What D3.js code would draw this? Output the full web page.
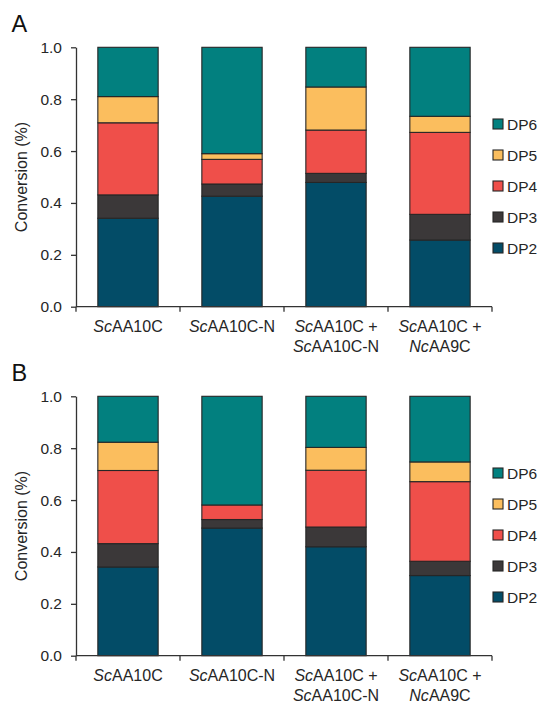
<!DOCTYPE html>
<html>
<head>
<meta charset="utf-8">
<script src="https://cdn.jsdelivr.net/npm/d3@7"></script>
<style>
	body { margin: 0; background: #fff; }
	svg { display: block; font-family: "Liberation Sans", Arial, sans-serif; }
</style>
</head>
<body>
<script>
// categories (first 2 chars of each line are italic)
const labelLine1 = ["ScAA10C", "ScAA10C-N", "ScAA10C +", "ScAA10C +"];
const labelLine2 = ["", "", "ScAA10C-N", "NcAA9C"];
const seriesKeys = ["DP2", "DP3", "DP4", "DP5", "DP6"];
const yTicks = [0, 0.2, 0.4, 0.6, 0.8, 1.0];

// panel A values
const dp2A = [0.341, 0.426, 0.479, 0.257];
const dp3A = [0.090, 0.047, 0.035, 0.099];
const dp4A = [0.278, 0.095, 0.167, 0.316];
const dp5A = [0.101, 0.022, 0.166, 0.062];
const dp6A = [0.190, 0.410, 0.153, 0.266];

// panel B values
const dp2B = [0.342, 0.492, 0.420, 0.309];
const dp3B = [0.090, 0.033, 0.076, 0.055];
const dp4B = [0.282, 0.056, 0.219, 0.307];
const dp5B = [0.109, 0.000, 0.088, 0.076];
const dp6B = [0.177, 0.419, 0.197, 0.253];

const colors = {
	DP2: "#034c67",
	DP3: "#3b3839",
	DP4: "#ef4f4a",
	DP5: "#fbbe5e",
	DP6: "#02807f"
};

const width = 539, height = 705;
const svg = d3.select("body").append("svg")
	.attr("width", width)
	.attr("height", height);

const axisColor = "#333";
const textColor = "#262626";
const fontSize = 15.5;
const labelSize = 16;

function buildRows(cols) {
	return labelLine1.map((_, i) => {
		const row = { idx: i };
		seriesKeys.forEach((k, j) => (row[k] = cols[j][i]));
		return row;
	});
}

function italicLabel(textSel, str) {
	textSel.append("tspan").attr("font-style", "italic").text(str.slice(0, 2));
	textSel.append("tspan").text(str.slice(2));
}

function drawPanel(letter, cols, top) {
	const g = svg.append("g");
	const plotTop = top + 47.3;
	const plotBottom = top + 306.7;

	const x = d3.scaleBand()
		.domain(labelLine1.map((_, i) => i))
		.range([76, 492])
		.paddingInner(0.42)
		.paddingOuter(0.21);

	const y = d3.scaleLinear()
		.domain([0, 1])
		.range([plotBottom, plotTop]);

	const stacked = d3.stack().keys(seriesKeys)(buildRows(cols));

	// bars
	g.selectAll("g.layer")
		.data(stacked)
		.join("g")
		.attr("class", "layer")
		.attr("fill", d => colors[d.key])
		.selectAll("rect")
		.data(d => d.filter(s => s[1] - s[0] > 0))
		.join("rect")
		.attr("x", d => x(d.data.idx))
		.attr("y", d => y(d[1]))
		.attr("width", x.bandwidth())
		.attr("height", d => y(d[0]) - y(d[1]))
		.attr("stroke", "#262626")
		.attr("stroke-width", 1.1);

	// y axis
	const yAxis = g.append("g")
		.attr("transform", "translate(76,0)")
		.call(d3.axisLeft(y).tickValues(yTicks).tickFormat(d3.format(".1f")).tickSize(5).tickPadding(9).tickSizeOuter(0));
	yAxis.select(".domain").attr("stroke", axisColor).attr("stroke-width", 1.3);
	yAxis.selectAll(".tick line").attr("stroke", axisColor).attr("stroke-width", 1.3);
	yAxis.selectAll(".tick text")
		.attr("font-size", fontSize)
		.attr("font-family", "Liberation Sans, Arial, sans-serif")
		.attr("fill", textColor);

	// x axis line with boundary ticks
	g.append("line")
		.attr("x1", 76).attr("x2", 492)
		.attr("y1", plotBottom).attr("y2", plotBottom)
		.attr("stroke", axisColor).attr("stroke-width", 1.3);
	const bounds = [x.range()[0]].concat(labelLine1.map((_, i) => x(i) + x.bandwidth() + x.step() * x.paddingInner() / 2));
	bounds[bounds.length - 1] = x.range()[1];
	g.selectAll("line.xtick")
		.data(bounds)
		.join("line")
		.attr("class", "xtick")
		.attr("x1", d => d).attr("x2", d => d)
		.attr("y1", plotBottom).attr("y2", plotBottom + 5)
		.attr("stroke", axisColor).attr("stroke-width", 1.3);

	// x labels
	labelLine1.forEach((l, i) => {
		const cx = x(i) + x.bandwidth() / 2;
		const t1 = g.append("text")
			.attr("x", cx).attr("y", plotBottom + 25.5)
			.attr("text-anchor", "middle")
			.attr("font-size", labelSize)
			.attr("fill", textColor);
		italicLabel(t1, l);
		if (labelLine2[i]) {
			const t2 = g.append("text")
				.attr("x", cx).attr("y", plotBottom + 45)
				.attr("text-anchor", "middle")
				.attr("font-size", labelSize)
				.attr("fill", textColor);
			italicLabel(t2, labelLine2[i]);
		}
	});

	// y axis title
	g.append("text")
		.attr("transform", `translate(26.5,${(plotTop + plotBottom) / 2}) rotate(-90)`)
		.attr("text-anchor", "middle")
		.attr("font-size", labelSize)
		.attr("fill", textColor)
		.text("Conversion (%)");

	// panel letter
	g.append("text")
		.attr("x", 11.5).attr("y", top + 31.7)
		.attr("font-size", 23.5)
		.attr("fill", "#111")
		.text(letter);

	// legend (DP6 on top)
	const legendKeys = seriesKeys.slice().reverse();
	const leg = g.selectAll("g.leg")
		.data(legendKeys)
		.join("g")
		.attr("class", "leg")
		.attr("transform", (d, i) => `translate(493,${top + 124 + i * 31})`);
	leg.append("rect")
		.attr("x", 0).attr("y", -5)
		.attr("width", 10).attr("height", 10)
		.attr("fill", d => colors[d])
		.attr("stroke", "#262626")
		.attr("stroke-width", 1.1);
	leg.append("text")
		.attr("x", 14).attr("y", 5.5)
		.attr("font-size", fontSize)
		.attr("fill", textColor)
		.text(d => d);
}

drawPanel("A", [dp2A, dp3A, dp4A, dp5A, dp6A], 0);
drawPanel("B", [dp2B, dp3B, dp4B, dp5B, dp6B], 349);
</script>
</body>
</html>
